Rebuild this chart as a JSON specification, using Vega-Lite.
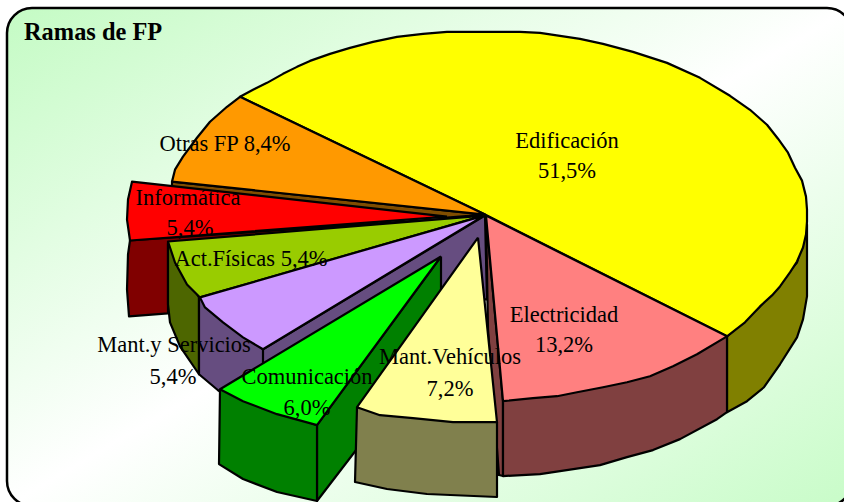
{"$schema":"https://vega.github.io/schema/vega-lite/v6.json","width":844,"height":503,"autosize":{"type":"fit","contains":"padding"},"padding":0,"background":"white","view":{"stroke":null},"layer":[
{"data":{"values":[{"x":7,"x2":852,"y":8,"y2":507}]},"mark":{"type":"rect","clip":true,"cornerRadius":25,"stroke":"black","strokeWidth":2.5,"fill":{"gradient":"linear","x1":0,"y1":0,"x2":1,"y2":1,"stops":[{"offset":0,"color":"#c4fbc4"},{"offset":0.5,"color":"#ffffff"},{"offset":1,"color":"#c8fcc8"}]}},"encoding":{"x":{"field":"x","type":"quantitative","axis":null,"scale":{"domain":[0,844],"nice":false,"zero":false}},"x2":{"field":"x2"},"y":{"field":"y","type":"quantitative","axis":null,"scale":{"domain":[503,0],"nice":false,"zero":false}},"y2":{"field":"y2"}}},
{"data":{"values":[
{"p":"Edificación lado","n":1,"x":727,"y":337},{"p":"Edificación lado","n":2,"x":760,"y":307},{"p":"Edificación lado","n":3,"x":797,"y":263},{"p":"Edificación lado","n":4,"x":807,"y":225},{"p":"Edificación lado","n":5,"x":807,"y":297},{"p":"Edificación lado","n":6,"x":803,"y":320},{"p":"Edificación lado","n":7,"x":797,"y":338},{"p":"Edificación lado","n":8,"x":780,"y":365},{"p":"Edificación lado","n":9,"x":764,"y":388},{"p":"Edificación lado","n":10,"x":747,"y":402},{"p":"Edificación lado","n":11,"x":727,"y":413},{"p":"Edificación lado","n":12,"x":727,"y":337},
{"p":"Edificación","n":1,"x":485,"y":215},{"p":"Edificación","n":2,"x":727,"y":337},{"p":"Edificación","n":3,"x":745,"y":323},{"p":"Edificación","n":4,"x":760,"y":307},{"p":"Edificación","n":5,"x":772,"y":296},{"p":"Edificación","n":6,"x":780,"y":287},{"p":"Edificación","n":7,"x":790,"y":273},{"p":"Edificación","n":8,"x":797,"y":262},{"p":"Edificación","n":9,"x":803,"y":248},{"p":"Edificación","n":10,"x":806,"y":235},{"p":"Edificación","n":11,"x":807,"y":222},{"p":"Edificación","n":12,"x":807,"y":210},{"p":"Edificación","n":13,"x":806,"y":197},{"p":"Edificación","n":14,"x":802,"y":181},{"p":"Edificación","n":15,"x":795,"y":168},{"p":"Edificación","n":16,"x":788,"y":153},{"p":"Edificación","n":17,"x":778,"y":139},{"p":"Edificación","n":18,"x":767,"y":125},{"p":"Edificación","n":19,"x":750,"y":110},{"p":"Edificación","n":20,"x":730,"y":96},{"p":"Edificación","n":21,"x":700,"y":78},{"p":"Edificación","n":22,"x":667,"y":63},{"p":"Edificación","n":23,"x":633,"y":52},{"p":"Edificación","n":24,"x":603,"y":44},{"p":"Edificación","n":25,"x":580,"y":39},{"p":"Edificación","n":26,"x":560,"y":36},{"p":"Edificación","n":27,"x":540,"y":33},{"p":"Edificación","n":28,"x":520,"y":32},{"p":"Edificación","n":29,"x":447,"y":32},{"p":"Edificación","n":30,"x":423,"y":34},{"p":"Edificación","n":31,"x":397,"y":37},{"p":"Edificación","n":32,"x":373,"y":42},{"p":"Edificación","n":33,"x":350,"y":48},{"p":"Edificación","n":34,"x":330,"y":54},{"p":"Edificación","n":35,"x":310,"y":61},{"p":"Edificación","n":36,"x":297,"y":67},{"p":"Edificación","n":37,"x":283,"y":74},{"p":"Edificación","n":38,"x":267,"y":83},{"p":"Edificación","n":39,"x":253,"y":90},{"p":"Edificación","n":40,"x":240,"y":97},{"p":"Edificación","n":41,"x":485,"y":215},
{"p":"Otras lado","n":1,"x":172,"y":182},{"p":"Otras lado","n":2,"x":172,"y":188},{"p":"Otras lado","n":3,"x":447,"y":218},{"p":"Otras lado","n":4,"x":485,"y":215},{"p":"Otras lado","n":5,"x":172,"y":182},
{"p":"Otras","n":1,"x":485,"y":215},{"p":"Otras","n":2,"x":240,"y":97},{"p":"Otras","n":3,"x":227,"y":107},{"p":"Otras","n":4,"x":210,"y":122},{"p":"Otras","n":5,"x":197,"y":138},{"p":"Otras","n":6,"x":183,"y":157},{"p":"Otras","n":7,"x":175,"y":170},{"p":"Otras","n":8,"x":172,"y":182},{"p":"Otras","n":9,"x":485,"y":215},
{"p":"Informática lado","n":1,"x":130,"y":241},{"p":"Informática lado","n":2,"x":128,"y":255},{"p":"Informática lado","n":3,"x":127,"y":290},{"p":"Informática lado","n":4,"x":129,"y":317},{"p":"Informática lado","n":5,"x":168,"y":314},{"p":"Informática lado","n":6,"x":168,"y":244},{"p":"Informática lado","n":7,"x":447,"y":219},{"p":"Informática lado","n":8,"x":130,"y":241},
{"p":"Informática","n":1,"x":447,"y":217},{"p":"Informática","n":2,"x":132,"y":182},{"p":"Informática","n":3,"x":128,"y":200},{"p":"Informática","n":4,"x":127,"y":220},{"p":"Informática","n":5,"x":130,"y":241},{"p":"Informática","n":6,"x":447,"y":217},
{"p":"Act lado","n":1,"x":168,"y":242},{"p":"Act lado","n":2,"x":168,"y":305},{"p":"Act lado","n":3,"x":170,"y":323},{"p":"Act lado","n":4,"x":180,"y":347},{"p":"Act lado","n":5,"x":199,"y":375},{"p":"Act lado","n":6,"x":199,"y":298},{"p":"Act lado","n":7,"x":168,"y":242},
{"p":"Act","n":1,"x":484,"y":216},{"p":"Act","n":2,"x":168,"y":242},{"p":"Act","n":3,"x":175,"y":263},{"p":"Act","n":4,"x":187,"y":285},{"p":"Act","n":5,"x":200,"y":298},{"p":"Act","n":6,"x":484,"y":216},
{"p":"Servicios lado","n":1,"x":199,"y":298},{"p":"Servicios lado","n":2,"x":199,"y":375},{"p":"Servicios lado","n":3,"x":218,"y":391},{"p":"Servicios lado","n":4,"x":263,"y":420},{"p":"Servicios lado","n":5,"x":441,"y":300},{"p":"Servicios lado","n":6,"x":487,"y":300},{"p":"Servicios lado","n":7,"x":485,"y":216},{"p":"Servicios lado","n":8,"x":263,"y":350},{"p":"Servicios lado","n":9,"x":199,"y":298},
{"p":"Servicios arista","n":1,"x":263,"y":350},{"p":"Servicios arista","n":2,"x":263,"y":372},
{"p":"Servicios","n":1,"x":484,"y":216},{"p":"Servicios","n":2,"x":200,"y":298},{"p":"Servicios","n":3,"x":205,"y":308},{"p":"Servicios","n":4,"x":223,"y":323},{"p":"Servicios","n":5,"x":243,"y":338},{"p":"Servicios","n":6,"x":263,"y":350},{"p":"Servicios","n":7,"x":484,"y":216},
{"p":"Electricidad radial","n":1,"x":486,"y":216},{"p":"Electricidad radial","n":2,"x":503,"y":402},{"p":"Electricidad radial","n":3,"x":503,"y":477},{"p":"Electricidad radial","n":4,"x":499,"y":476},{"p":"Electricidad radial","n":5,"x":488,"y":330},{"p":"Electricidad radial","n":6,"x":486,"y":216},
{"p":"Electricidad lado","n":1,"x":503,"y":402},{"p":"Electricidad lado","n":2,"x":503,"y":477},{"p":"Electricidad lado","n":3,"x":540,"y":475},{"p":"Electricidad lado","n":4,"x":560,"y":472},{"p":"Electricidad lado","n":5,"x":600,"y":466},{"p":"Electricidad lado","n":6,"x":627,"y":458},{"p":"Electricidad lado","n":7,"x":653,"y":451},{"p":"Electricidad lado","n":8,"x":680,"y":440},{"p":"Electricidad lado","n":9,"x":717,"y":420},{"p":"Electricidad lado","n":10,"x":727,"y":413},{"p":"Electricidad lado","n":11,"x":727,"y":337},{"p":"Electricidad lado","n":12,"x":503,"y":402},
{"p":"Electricidad","n":1,"x":486,"y":216},{"p":"Electricidad","n":2,"x":727,"y":337},{"p":"Electricidad","n":3,"x":697,"y":355},{"p":"Electricidad","n":4,"x":673,"y":367},{"p":"Electricidad","n":5,"x":650,"y":377},{"p":"Electricidad","n":6,"x":627,"y":383},{"p":"Electricidad","n":7,"x":603,"y":388},{"p":"Electricidad","n":8,"x":577,"y":393},{"p":"Electricidad","n":9,"x":557,"y":397},{"p":"Electricidad","n":10,"x":533,"y":399},{"p":"Electricidad","n":11,"x":503,"y":402},{"p":"Electricidad","n":12,"x":486,"y":216},
{"p":"Comunicación radial","n":1,"x":441,"y":257},{"p":"Comunicación radial","n":2,"x":317,"y":426},{"p":"Comunicación radial","n":3,"x":317,"y":502},{"p":"Comunicación radial","n":4,"x":441,"y":340},{"p":"Comunicación radial","n":5,"x":441,"y":257},
{"p":"Comunicación lado","n":1,"x":220,"y":390},{"p":"Comunicación lado","n":2,"x":219,"y":465},{"p":"Comunicación lado","n":3,"x":243,"y":480},{"p":"Comunicación lado","n":4,"x":277,"y":493},{"p":"Comunicación lado","n":5,"x":317,"y":502},{"p":"Comunicación lado","n":6,"x":317,"y":426},{"p":"Comunicación lado","n":7,"x":220,"y":390},
{"p":"Comunicación","n":1,"x":441,"y":257},{"p":"Comunicación","n":2,"x":220,"y":390},{"p":"Comunicación","n":3,"x":243,"y":402},{"p":"Comunicación","n":4,"x":277,"y":415},{"p":"Comunicación","n":5,"x":317,"y":426},{"p":"Comunicación","n":6,"x":441,"y":257},
{"p":"Vehículos lado","n":1,"x":357,"y":408},{"p":"Vehículos lado","n":2,"x":355,"y":483},{"p":"Vehículos lado","n":3,"x":387,"y":490},{"p":"Vehículos lado","n":4,"x":427,"y":495},{"p":"Vehículos lado","n":5,"x":497,"y":498},{"p":"Vehículos lado","n":6,"x":497,"y":423},{"p":"Vehículos lado","n":7,"x":357,"y":408},
{"p":"Vehículos","n":1,"x":478,"y":238},{"p":"Vehículos","n":2,"x":497,"y":423},{"p":"Vehículos","n":3,"x":453,"y":423},{"p":"Vehículos","n":4,"x":413,"y":419},{"p":"Vehículos","n":5,"x":380,"y":416},{"p":"Vehículos","n":6,"x":357,"y":408},{"p":"Vehículos","n":7,"x":478,"y":238}
]},"mark":{"type":"line","stroke":"black","strokeWidth":2.2,"strokeJoin":"round"},"encoding":{"x":{"field":"x","type":"quantitative"},"y":{"field":"y","type":"quantitative"},"order":{"field":"n","type":"quantitative"},"detail":{"field":"p","type":"nominal"},"fill":{"field":"p","type":"nominal","legend":null,"scale":{"domain":["Edificación lado","Edificación","Otras lado","Otras","Informática lado","Informática","Act lado","Act","Servicios lado","Servicios arista","Servicios","Electricidad radial","Electricidad lado","Electricidad","Comunicación radial","Comunicación lado","Comunicación","Vehículos lado","Vehículos"],"range":["#808000","#ffff00","#804d00","#ff9900","#800000","#ff0000","#4d6600","#99cc00","#664d80","#664d80","#cc99ff","#804040","#804040","#ff8080","#008000","#008000","#00ff00","#80804d","#ffff99"]}}}},
{"data":{"values":[{"t":"Edificación","x":567,"y":148},{"t":"51,5%","x":567,"y":178},{"t":"Otras FP 8,4%","x":225,"y":151},{"t":"Informática","x":188,"y":205},{"t":"5,4%","x":190,"y":235},{"t":"Act.Físicas 5,4%","x":251,"y":267},{"t":"Mant.y Servicios","x":174,"y":353},{"t":"5,4%","x":173,"y":385},{"t":"Comunicación","x":307,"y":385},{"t":"6,0%","x":307,"y":416},{"t":"Mant.Vehículos","x":450,"y":365},{"t":"7,2%","x":450,"y":397},{"t":"Electricidad","x":564,"y":323},{"t":"13,2%","x":564,"y":353}]},"mark":{"type":"text","font":"Liberation Serif","fontSize":22.5,"align":"center","baseline":"alphabetic","fill":"#000000"},"encoding":{"x":{"field":"x","type":"quantitative"},"y":{"field":"y","type":"quantitative"},"text":{"field":"t"}}},
{"data":{"values":[{"t":"Ramas de FP","x":24,"y":40}]},"mark":{"type":"text","font":"Liberation Serif","fontSize":24.4,"fontWeight":"bold","align":"left","baseline":"alphabetic","fill":"#000000"},"encoding":{"x":{"field":"x","type":"quantitative"},"y":{"field":"y","type":"quantitative"},"text":{"field":"t"}}}
]}
